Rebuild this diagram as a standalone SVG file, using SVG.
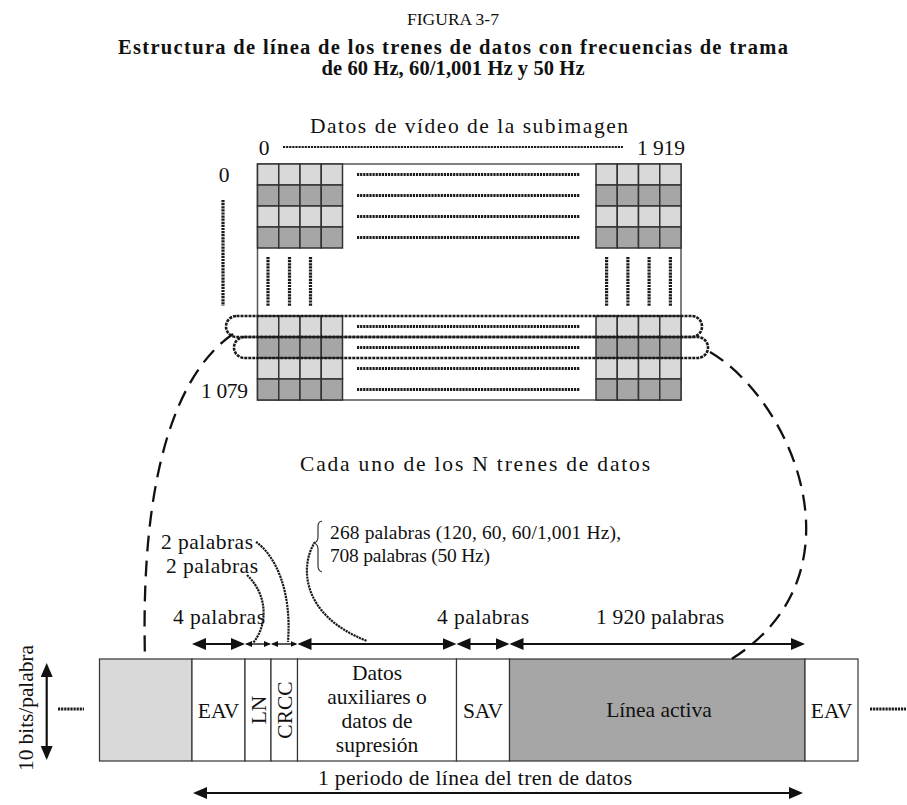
<svg xmlns="http://www.w3.org/2000/svg" width="907" height="805" viewBox="0 0 907 805">
<style>
text{font-family:"Liberation Serif","Times New Roman",serif;font-size:21.5px;fill:#111}
.t{font-size:17.5px}
.s{font-size:19.5px}
.b{font-weight:bold;font-size:20.5px}
.c{text-anchor:middle}
.lt{fill:#d9d9d9;stroke:#333;stroke-width:1.5}
.dk{fill:#a6a6a6;stroke:#333;stroke-width:1.5}
.box{stroke:#333;stroke-width:1.2}
.dot{stroke:#1a1a1a;stroke-width:3.2;stroke-dasharray:2.2 0.9;fill:none}
.dotc{stroke:#1a1a1a;stroke-width:2.2;stroke-dasharray:2.2 0.8;fill:none}
.loop{stroke:#1a1a1a;stroke-width:2.6;stroke-dasharray:3 1;fill:none}
.dash{stroke:#111;stroke-width:2.3;stroke-dasharray:16 9;fill:none}
.ar{stroke:#111;stroke-width:2.2;fill:none}
.sar{stroke:#111;stroke-width:1.4;fill:none}
</style>
<defs>
<marker id="ah" viewBox="0 0 14 12" refX="11" refY="6" markerWidth="14" markerHeight="12" markerUnits="userSpaceOnUse" orient="auto-start-reverse"><path d="M0,0 L14,6 L0,12 z" fill="#111"/></marker>
<marker id="sah" viewBox="0 0 7 6" refX="5.5" refY="3" markerWidth="7" markerHeight="6" markerUnits="userSpaceOnUse" orient="auto-start-reverse"><path d="M0,0 L7,3 L0,6 z" fill="#111"/></marker>
<g id="cells">
<rect id="cl" width="21.25" height="21" class="lt"/>
<rect id="cd" width="21.25" height="21" class="dk"/>
</g>
</defs>

<g id="titles">
<text class="t c" x="453" y="25">FIGURA 3-7</text>
<text class="b c" x="453" y="54" textLength="670" lengthAdjust="spacing">Estructura de línea de los trenes de datos con frecuencias de trama</text>
<text class="b c" x="453" y="75" textLength="263" lengthAdjust="spacing">de 60 Hz, 60/1,001 Hz y 50 Hz</text>
</g>

<g id="subimagen">
<text class="c" x="469" y="133" textLength="318" lengthAdjust="spacing">Datos de vídeo de la subimagen</text>
<text class="c" x="264" y="155">0</text>
<line class="dot" x1="283" y1="147" x2="623" y2="147" style="stroke-width:2"/>
<text x="637" y="155" textLength="48" lengthAdjust="spacing">1 919</text>
<text class="c" x="224" y="182">0</text>
<text x="201" y="398" textLength="47" lengthAdjust="spacing">1 079</text>
<line class="dot" x1="223" y1="200" x2="223" y2="306"/>
<rect x="257.5" y="164" width="423.5" height="236" fill="#fff" stroke="#555" stroke-width="1.5"/>
<g id="blockTL">
<use href="#cl" x="257.5" y="164"/><use href="#cl" x="278.75" y="164"/><use href="#cl" x="300" y="164"/><use href="#cl" x="321.25" y="164"/>
<use href="#cd" x="257.5" y="185"/><use href="#cd" x="278.75" y="185"/><use href="#cd" x="300" y="185"/><use href="#cd" x="321.25" y="185"/>
<use href="#cl" x="257.5" y="206"/><use href="#cl" x="278.75" y="206"/><use href="#cl" x="300" y="206"/><use href="#cl" x="321.25" y="206"/>
<use href="#cd" x="257.5" y="227"/><use href="#cd" x="278.75" y="227"/><use href="#cd" x="300" y="227"/><use href="#cd" x="321.25" y="227"/>
</g>
<g id="blockTR">
<use href="#cl" x="596" y="164"/><use href="#cl" x="617.25" y="164"/><use href="#cl" x="638.5" y="164"/><use href="#cl" x="659.75" y="164"/>
<use href="#cd" x="596" y="185"/><use href="#cd" x="617.25" y="185"/><use href="#cd" x="638.5" y="185"/><use href="#cd" x="659.75" y="185"/>
<use href="#cl" x="596" y="206"/><use href="#cl" x="617.25" y="206"/><use href="#cl" x="638.5" y="206"/><use href="#cl" x="659.75" y="206"/>
<use href="#cd" x="596" y="227"/><use href="#cd" x="617.25" y="227"/><use href="#cd" x="638.5" y="227"/><use href="#cd" x="659.75" y="227"/>
</g>
<g id="blockBL">
<use href="#cl" x="257.5" y="316"/><use href="#cl" x="278.75" y="316"/><use href="#cl" x="300" y="316"/><use href="#cl" x="321.25" y="316"/>
<use href="#cd" x="257.5" y="337"/><use href="#cd" x="278.75" y="337"/><use href="#cd" x="300" y="337"/><use href="#cd" x="321.25" y="337"/>
<use href="#cl" x="257.5" y="358"/><use href="#cl" x="278.75" y="358"/><use href="#cl" x="300" y="358"/><use href="#cl" x="321.25" y="358"/>
<use href="#cd" x="257.5" y="379"/><use href="#cd" x="278.75" y="379"/><use href="#cd" x="300" y="379"/><use href="#cd" x="321.25" y="379"/>
</g>
<g id="blockBR">
<use href="#cl" x="596" y="316"/><use href="#cl" x="617.25" y="316"/><use href="#cl" x="638.5" y="316"/><use href="#cl" x="659.75" y="316"/>
<use href="#cd" x="596" y="337"/><use href="#cd" x="617.25" y="337"/><use href="#cd" x="638.5" y="337"/><use href="#cd" x="659.75" y="337"/>
<use href="#cl" x="596" y="358"/><use href="#cl" x="617.25" y="358"/><use href="#cl" x="638.5" y="358"/><use href="#cl" x="659.75" y="358"/>
<use href="#cd" x="596" y="379"/><use href="#cd" x="617.25" y="379"/><use href="#cd" x="638.5" y="379"/><use href="#cd" x="659.75" y="379"/>
</g>
<g id="dots">
<line class="dot" x1="357" y1="174.5" x2="580" y2="174.5"/>
<line class="dot" x1="357" y1="195.5" x2="580" y2="195.5"/>
<line class="dot" x1="357" y1="216.5" x2="580" y2="216.5"/>
<line class="dot" x1="357" y1="237.5" x2="580" y2="237.5"/>
<line class="dot" x1="357" y1="326.5" x2="580" y2="326.5"/>
<line class="dot" x1="357" y1="347.5" x2="580" y2="347.5"/>
<line class="dot" x1="357" y1="368.5" x2="580" y2="368.5"/>
<line class="dot" x1="357" y1="389.5" x2="580" y2="389.5"/>
<line class="dot" x1="268" y1="257" x2="268" y2="306"/>
<line class="dot" x1="289.5" y1="257" x2="289.5" y2="306"/>
<line class="dot" x1="310.5" y1="257" x2="310.5" y2="306"/>
<line class="dot" x1="606.6" y1="257" x2="606.6" y2="306"/>
<line class="dot" x1="627.9" y1="257" x2="627.9" y2="306"/>
<line class="dot" x1="649.1" y1="257" x2="649.1" y2="306"/>
<line class="dot" x1="670.4" y1="257" x2="670.4" y2="306"/>
</g>
</g>

<text class="c" x="475" y="471" textLength="350" lengthAdjust="spacing">Cada uno de los N trenes de datos</text>

<g id="labels">
<text class="s" x="330" y="539" textLength="291" lengthAdjust="spacing">268 palabras (120, 60, 60/1,001 Hz),</text>
<text class="s" x="330" y="562" textLength="160" lengthAdjust="spacing">708 palabras (50 Hz)</text>
<text x="161" y="549" textLength="92" lengthAdjust="spacing">2 palabras</text>
<text x="166" y="573" textLength="92" lengthAdjust="spacing">2 palabras</text>
<text x="173" y="624" textLength="92" lengthAdjust="spacing">4 palabras</text>
<text x="437" y="624" textLength="92" lengthAdjust="spacing">4 palabras</text>
<text x="596" y="624" textLength="128" lengthAdjust="spacing">1 920 palabras</text>
<text class="c" x="475" y="785" textLength="314" lengthAdjust="spacing">1 periodo de línea del tren de datos</text>
<text class="c" transform="translate(33,708) rotate(-90)" textLength="126" lengthAdjust="spacing">10 bits/palabra</text>
</g>

<g id="bar">
<g id="n-prev"><rect class="box" x="99.5" y="659" width="92.5" height="102" fill="#d9d9d9"/></g>
<g id="n-eav1"><rect class="box" x="192" y="659" width="53" height="102" fill="#fff"/><text class="c" x="218.5" y="718">EAV</text></g>
<g id="n-ln"><rect class="box" x="245" y="659" width="26" height="102" fill="#fff"/><text class="c" transform="translate(265.5,710) rotate(-90)">LN</text></g>
<g id="n-crcc"><rect class="box" x="271" y="659" width="26.5" height="102" fill="#fff"/><text class="c" transform="translate(292,710) rotate(-90)">CRCC</text></g>
<g id="n-aux"><rect class="box" x="297.5" y="659" width="159" height="102" fill="#fff"/>
<text class="c" x="377" y="680">Datos</text><text class="c" x="377" y="704">auxiliares o</text><text class="c" x="377" y="728">datos de</text><text class="c" x="377" y="752">supresión</text></g>
<g id="n-sav"><rect class="box" x="456.5" y="659" width="53" height="102" fill="#fff"/><text class="c" x="483" y="718">SAV</text></g>
<g id="n-act"><rect class="box" x="509.5" y="659" width="295.5" height="102" fill="#a6a6a6"/><text class="c" x="659" y="717">Línea activa</text></g>
<g id="n-eav2"><rect class="box" x="805" y="659" width="53" height="102" fill="#fff"/><text class="c" x="831.5" y="718">EAV</text></g>
</g>

<g id="connectors">
<rect class="loop" x="226" y="316" width="476" height="21" rx="10.5"/>
<rect class="loop" x="234" y="337" width="474" height="21" rx="10.5"/>
<path class="dash" d="M233,334 C178,372 140,470 145,659"/>
<path class="dash" d="M710,352 C792,400 868,575 730,660"/>
<line class="dot" x1="58" y1="709" x2="84" y2="709"/>
<line class="dot" x1="870" y1="709" x2="906" y2="709"/>
<line class="ar" x1="46.7" y1="666" x2="46.7" y2="757" marker-start="url(#ah)" marker-end="url(#ah)"/>
<line class="ar" x1="195" y1="644" x2="242" y2="644" marker-start="url(#ah)" marker-end="url(#ah)"/>
<line class="sar" x1="246.5" y1="644" x2="269.5" y2="644" marker-start="url(#sah)" marker-end="url(#sah)"/>
<line class="sar" x1="272.5" y1="644" x2="296" y2="644" marker-start="url(#sah)" marker-end="url(#sah)"/>
<line class="ar" x1="300.5" y1="644" x2="453.5" y2="644" marker-start="url(#ah)" marker-end="url(#ah)"/>
<line class="ar" x1="459.5" y1="644" x2="506.5" y2="644" marker-start="url(#ah)" marker-end="url(#ah)"/>
<line class="ar" x1="512.5" y1="644" x2="802" y2="644" marker-start="url(#ah)" marker-end="url(#ah)"/>
<line class="ar" x1="196" y1="793" x2="800" y2="793" marker-start="url(#ah)" marker-end="url(#ah)"/>
<path class="dotc" d="M256,542 C275,555 292,590 288,642"/>
<path class="dotc" d="M247,575 C268,595 268,625 253,643"/>
<path class="dotc" d="M315,542 C300,565 300,615 367,641"/>
<path d="M322,521 C318,522 318,524 318,528 L318,537 C318,540 317,542 314,543 C317,544 318,546 318,549 L318,566 C318,569 319,571 322,572" fill="none" stroke="#333" stroke-width="1.2"/>
</g>
</svg>
